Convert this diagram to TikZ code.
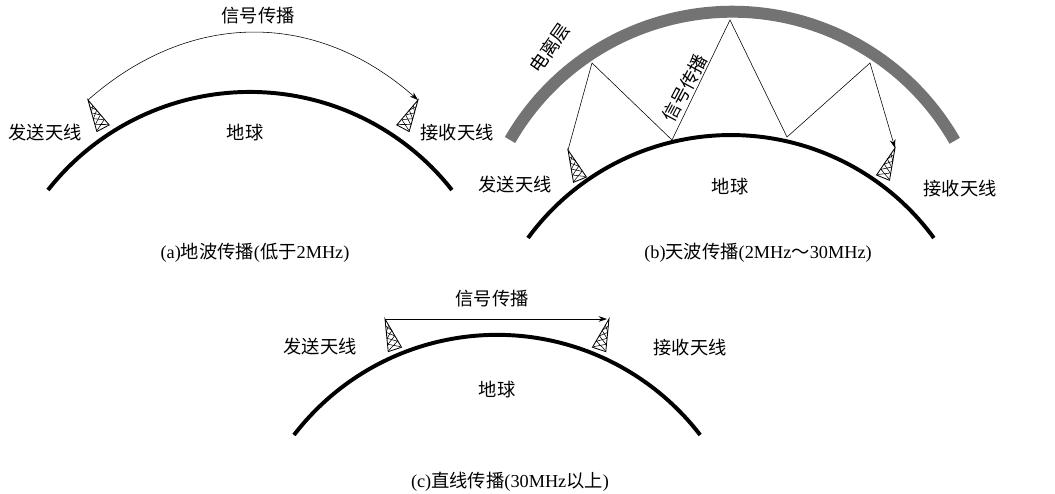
\documentclass[tikz,border=0pt]{standalone}
\usepackage{fontspec}
\setmainfont{Liberation Serif}
\newfontfamily\cjk{Noto Sans CJK SC}
\usetikzlibrary{arrows.meta}
\tikzstyle{earth}=[line width=2.8pt, black]
\tikzstyle{iono}=[line width=8.5pt, black!55]
\tikzstyle{wave}=[thin, -{Stealth[length=6pt,width=4pt]}]
\tikzstyle{annot}=[align=center, font=\fontsize{13}{15}\selectfont]
\newcommand{\drawtower}[3]
{
  \begin{scope}[shift={(#1,#2)}, rotate=#3]
    \draw[semithick] (0,0) -- (-7,32) -- (7,32) -- cycle;
    \draw[thin] (-1.5,7) -- (3,13) -- (-4,19) -- (5,25) -- (-6,31);
    \draw[thin] (1.5,7) -- (-3,13) -- (4,19) -- (-5,25) -- (6,31);
  \end{scope}
}
\begin{document}
\begin{tikzpicture}[x=0.025cm, y=-0.025cm]
	\useasboundingbox (0,0) rectangle (1055,494);

	% (a)
	\drawtower{88}{100}{28}
	\drawtower{418}{100}{-28}
	\draw[earth] (48,190) arc[start angle=218.2, end angle=321.8, radius=257];
	\coordinate (a1) at (88,100);
	\coordinate (a2) at (418,100);
	\draw[wave] (a1) .. controls (190,10) and (316,10) .. (a2);
	\node[annot] (sigA) at (258,16) {\cjk 信号传播};
	\node[annot] (txA) at (45,133) {\cjk 发送天线};
	\node[annot] (earthA) at (245,133) {\cjk 地球};
	\node[annot] (rxA) at (457,133) {\cjk 接收天线};
	\node[annot] (capA) at (255,253) {(a)\cjk 地波传播\rmfamily(\cjk 低于\rmfamily 2MHz)};

	% (b)
	\draw[iono] (510,140) arc[start angle=210.0, end angle=330.2, radius=256.5];
	\drawtower{568}{150}{22}
	\drawtower{895}{148}{-22}
	\draw[earth] (528,238) arc[start angle=216.2, end angle=323.8, radius=251.5];
	\coordinate (b0) at (568,150);
	\coordinate (b1) at (592,63);
	\coordinate (b2) at (672,140);
	\coordinate (b3) at (730,20);
	\coordinate (b4) at (787,137);
	\coordinate (b5) at (870,63);
	\coordinate (b6) at (895,148);
	\draw[wave] (b0) -- (b1) -- (b2) -- (b3) -- (b4) -- (b5) -- (b6);
	\node[annot, rotate=55, inner sep=0pt] (ionoB) at (550,48) {\cjk 电离层};
	\node[annot, rotate=62, inner sep=0pt] (sigB) at (685,88) {\cjk 信号传播};
	\node[annot] (txB) at (515,185) {\cjk 发送天线};
	\node[annot] (earthB) at (730,187) {\cjk 地球};
	\node[annot] (rxB) at (960,189) {\cjk 接收天线};
	\node[annot] (capB) at (758,253) {(b)\cjk 天波传播\rmfamily(2MHz\cjk ～\rmfamily 30MHz)};

	% (c)
	\drawtower{385}{319}{18}
	\drawtower{609}{319}{-18}
	\draw[earth] (294,435) arc[start angle=217.5, end angle=322.5, radius=256];
	\coordinate (c1) at (385,319);
	\coordinate (c2) at (607,319);
	\draw[wave] (c1) -- (c2);
	\node[annot] (sigC) at (492,299) {\cjk 信号传播};
	\node[annot] (txC) at (320,347) {\cjk 发送天线};
	\node[annot] (earthC) at (497,390) {\cjk 地球};
	\node[annot] (rxC) at (690,348) {\cjk 接收天线};
	\node[annot] (capC) at (510,482) {(c)\cjk 直线传播\rmfamily(30MHz\cjk 以上\rmfamily)};
\end{tikzpicture}
\end{document}
